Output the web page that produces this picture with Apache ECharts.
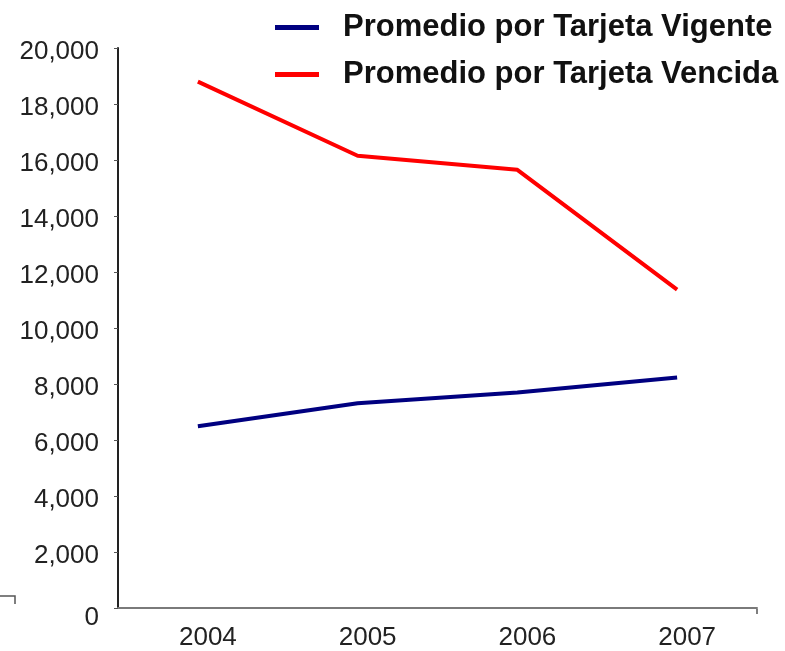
<!DOCTYPE html>
<html>
<head>
<meta charset="utf-8">
<script src="https://cdn.jsdelivr.net/npm/echarts@6/dist/echarts.min.js"></script>
<style>
  html, body { margin: 0; padding: 0; background: #ffffff; }
  #chart { width: 785px; height: 651px; }
</style>
</head>
<body>
<div id="chart"></div>
<script>
// Years on the horizontal axis
const years = ['2004', '2005', '2006', '2007'];

// Average amount per card, by card status
const vigente = [6490, 7310, 7700, 8235];
const vencida = [18800, 16150, 15650, 11370];

// Series names shown in the legend
const seriesNames = ['Promedio por Tarjeta Vigente', 'Promedio por Tarjeta Vencida'];

// Value axis range
const yMin = 0;
const yMax = 20000;
const yStep = 2000;

const chart = echarts.init(document.getElementById('chart'));

chart.setOption({
  animation: false,
  backgroundColor: '#ffffff',
  textStyle: { fontFamily: 'Liberation Sans, Arial, sans-serif' },
  grid: { left: 118, right: 28, top: 48, bottom: 42, containLabel: false },
  legend: {
    orient: 'vertical',
    left: 275,
    top: 10,
    padding: 0,
    itemWidth: 44,
    itemHeight: 5,
    itemGap: 12,
    icon: 'rect',
    data: seriesNames,
    textStyle: {
      fontSize: 31,
      fontWeight: 'bold',
      color: '#111111',
      padding: [0, 0, 0, 19],
      lineHeight: 35
    }
  },
  xAxis: {
    type: 'category',
    data: years,
    boundaryGap: true,
    axisLine: { lineStyle: { color: '#7a7a7a', width: 2 } },
    axisTick: { show: false },
    axisLabel: { fontSize: 26, color: '#222222', margin: 17, padding: [0, 0, 0, 20] },
    splitLine: { show: false }
  },
  yAxis: {
    type: 'value',
    min: yMin,
    max: yMax,
    interval: yStep,
    axisLine: { show: true, lineStyle: { color: '#222222', width: 2 } },
    axisTick: { show: true, length: 4, lineStyle: { color: '#555555' } },
    axisLabel: {
      fontSize: 26,
      color: '#222222',
      margin: 19,
      verticalAlign: 'top',
      lineHeight: 7,
      // the zero label sits a little lower than the others
      formatter: v => v === 0 ? '{z|0}' : v.toLocaleString('en-US'),
      rich: {
        z: { fontSize: 26, color: '#222222', lineHeight: 20 }
      }
    },
    splitLine: { show: false }
  },
  series: [
    {
      name: seriesNames[0],
      type: 'line',
      data: vigente,
      symbol: 'none',
      lineStyle: { color: '#000080', width: 4 },
      itemStyle: { color: '#000080' }
    },
    {
      name: seriesNames[1],
      type: 'line',
      data: vencida,
      symbol: 'none',
      lineStyle: { color: '#ff0000', width: 4 },
      itemStyle: { color: '#ff0000' }
    }
  ],
  graphic: [
    {
      type: 'polyline',
      shape: { points: [[0, 596], [15, 596], [15, 604]] },
      style: { stroke: '#555555', lineWidth: 1.5, fill: null }
    },
    {
      type: 'line',
      shape: { x1: 757, y1: 609, x2: 757, y2: 614 },
      style: { stroke: '#555555', lineWidth: 1.5 }
    }
  ]
});
</script>
</body>
</html>
